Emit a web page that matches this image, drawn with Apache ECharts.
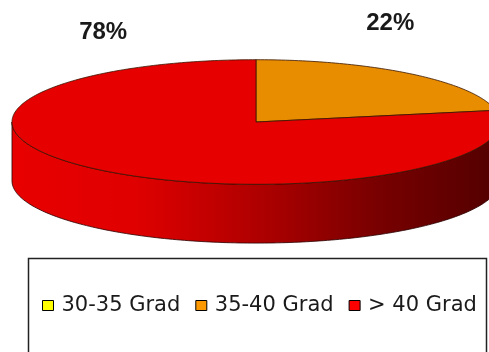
<!DOCTYPE html>
<html><head><meta charset="utf-8">
<script src="https://cdn.jsdelivr.net/npm/echarts@6/dist/echarts.min.js"></script>
<style>html,body{margin:0;padding:0;background:#fff}#c{width:489px;height:352px}</style>
</head><body><div id="c"></div>
<script>
const categories = ['30-35 Grad', '35-40 Grad', '> 40 Grad'];
const values = [0, 22, 78];
const legendColors = ['#ffff00', '#ff9900', '#ff0000'];
const faceColors = ['#e6e600', '#e88c00', '#e60000'];
const sideStops = [
  [{offset:0,color:'#e6e600'},{offset:1,color:'#555500'}],
  [{offset:0,color:'#e88c00'},{offset:1,color:'#553300'}],
  [{offset:0,color:'#e80000'},{offset:0.25,color:'#e00000'},{offset:0.5,color:'#b00000'},{offset:0.75,color:'#780000'},{offset:1,color:'#520000'}]
];

const total = values.reduce((a, b) => a + b, 0);

function renderSlice(params, api) {
  const i = params.seriesIndex;
  const W = api.getWidth(), H = api.getHeight();
  const cx = W * 0.5235, cy = H * 0.3466, rx = W * 0.499, ry = H * 0.177, depth = H * 0.167;
  const labelAnchors = [[0.5, 0.05], [0.798, 0.066], [0.211, 0.091]];
  const v = api.value(0);
  let start = 0;
  for (let k = 0; k < i; k++) start += values[k];
  const a0 = start / total * 360, a1 = (start + v) / total * 360;
  const pt = (deg, dy) => { const r = deg * Math.PI / 180; return [cx + rx * Math.sin(r), cy - ry * Math.cos(r) + (dy || 0)]; };
  const children = [];
  if (v > 0) {
    const s0 = Math.max(a0, 90), s1 = Math.min(a1, 270);
    if (s1 > s0) {
      const pts = [];
      for (let d = s0; d < s1; d += 1) pts.push(pt(d));
      pts.push(pt(s1));
      for (let d = s1; d > s0; d -= 1) pts.push(pt(d, depth));
      pts.push(pt(s0, depth));
      children.push({
        type: 'polygon', z2: 1, shape: { points: pts },
        style: { fill: { type: 'linear', x: cx - rx, y: 0, x2: cx + rx, y2: 0, global: true, colorStops: sideStops[i] }, stroke: '#2a0000', lineWidth: 0.8 }
      });
    }
    const tp = [[cx, cy]];
    for (let d = a0; d < a1; d += 1) tp.push(pt(d));
    tp.push(pt(a1));
    children.push({
      type: 'polygon', z2: 10, shape: { points: tp },
      style: { fill: faceColors[i], stroke: '#3a1500', lineWidth: 0.8 }
    });
    children.push({
      type: 'text', z2: 20,
      style: {
        text: Math.round(v / total * 100) + '%',
        x: W * labelAnchors[i][0], y: H * labelAnchors[i][1],
        align: 'center', verticalAlign: 'middle',
        font: 'bold 24px "Liberation Sans", Arial, sans-serif', fill: '#1a1a1a'
      }
    });
  }
  return { type: 'group', children };
}

const chart = echarts.init(document.getElementById('c'), null, { renderer: 'canvas' });
chart.setOption({
  animation: false,
  backgroundColor: '#fff',
  graphic: [{
    type: 'rect', silent: true, z: 0,
    shape: { x: 28.5, y: 258.5, width: 458, height: 130 },
    style: { fill: '#fff', stroke: '#222', lineWidth: 1.5 }
  }],
  legend: {
    data: categories, left: 42, top: 295, padding: 0, icon: 'rect',
    itemWidth: 11, itemHeight: 10, itemGap: 15, selectedMode: false,
    itemStyle: { borderColor: '#000', borderWidth: 1 },
    textStyle: { fontFamily: 'DejaVu Sans', fontSize: 21, color: '#1a1a1a', padding: [0, 0, 0, 3] }
  },
  series: categories.map((name, i) => ({
    type: 'custom', name: name, coordinateSystem: 'none', silent: true,
    itemStyle: { color: legendColors[i] },
    renderItem: renderSlice,
    data: [[values[i]]]
  }))
});
</script></body></html>
